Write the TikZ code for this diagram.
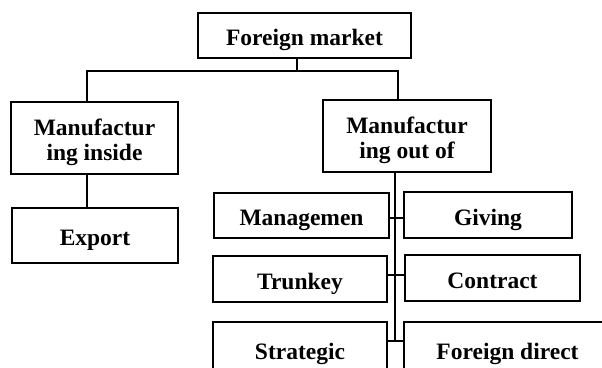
\documentclass[tikz,border=0pt]{standalone}
\usepackage{fontspec}
\setmainfont{Liberation Serif}
\usepackage{tikz}

\begin{document}
\begin{tikzpicture}[x=1pt,y=-1pt,
      box/.style={rectangle,draw=black,fill=white,line width=1.8pt,inner sep=0pt,
                  font=\fontsize{23.5}{25}\selectfont\bfseries,align=center,
                  text height=20pt,text depth=0pt},
      twoline/.style={text height=45.5pt,text depth=0pt},
      link/.style={line width=1.6pt,black}]
    \useasboundingbox (0,0) rectangle (602,367);
    \fill[white] (0,0) rectangle (602,367);
    \clip (0,0) rectangle (602,367);
    % levels
    \node[box,minimum width=213pt,minimum height=45pt](FM) at (304.5,35.5){Foreign market};
    \node[box,twoline,minimum width=167pt,minimum height=72pt](MI) at (94.5,138){Manufactur\\ing inside};
    \node[box,twoline,minimum width=168pt,minimum height=72pt](MO) at (407,136){Manufactur\\ing out of};
    \node[box,minimum width=166pt,minimum height=55pt](EX) at (95,235.5){Export};
    \node[box,minimum width=175pt,minimum height=45pt](MG) at (301.5,215.5){Managemen};
    \node[box,minimum width=168pt,minimum height=46pt](GV) at (488,215){Giving};
    \node[box,minimum width=174pt,minimum height=46pt](TK) at (300,279){Trunkey};
    \node[box,minimum width=175pt,minimum height=46pt](CT) at (492.5,278){Contract};
    \node[box,minimum width=174pt,minimum height=54pt](ST) at (300,349){Strategic};
    \node[box,minimum width=207pt,minimum height=54pt](FD) at (507.5,349){Foreign direct};
    % bus and spine
    \coordinate (split) at (297,71);
    \coordinate (busL) at (87,71);
    \coordinate (busR) at (398,71);
    \coordinate (spine) at (395,341);
    \coordinate (t1) at (0,218);
    \coordinate (t2) at (0,275);
    \draw[link](FM.south -| split)--(split);
    \draw[link](MI.north -| busL)--(busL)--(busR)--(MO.north -| busR);
    \draw[link](MI.south -| busL)--(EX.north -| busL);
    \draw[link](MO.south -| spine)--(spine);
    \draw[link](MG.east |- t1)--(GV.west |- t1);
    \draw[link](TK.east |- t2)--(CT.west |- t2);
    \draw[link](ST.east |- spine)--(FD.west |- spine);
  \end{tikzpicture}
\end{document}
